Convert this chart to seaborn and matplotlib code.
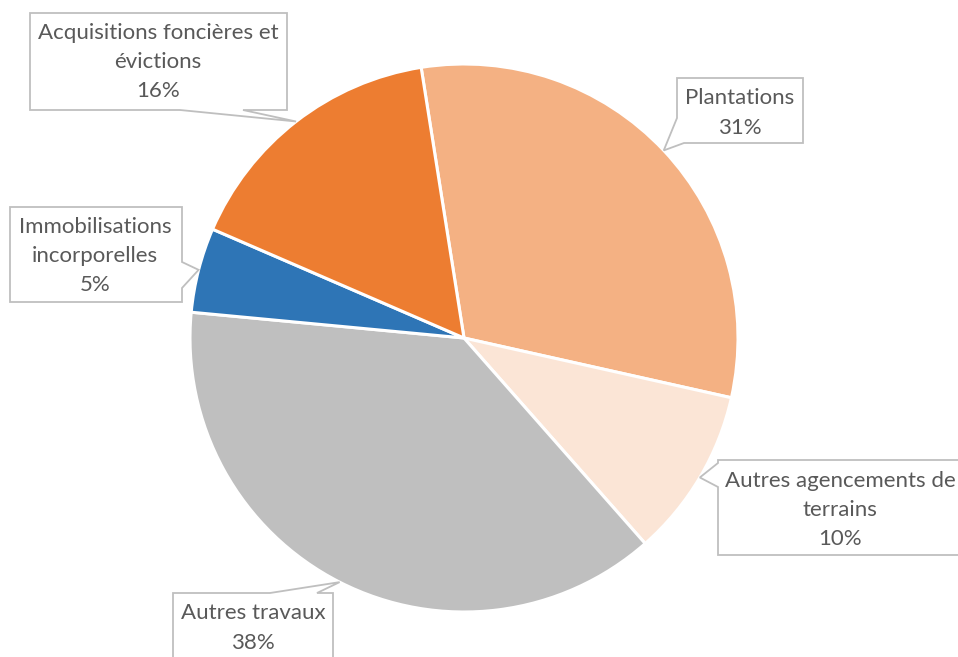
"""
Pie chart of investment spending by category, with Excel-style callout labels.
"""
import matplotlib
matplotlib.use("Agg")

import matplotlib.pyplot as plt
import numpy as np
import seaborn as sns
from matplotlib.patches import Polygon


CATEGORIES = [
    "Plantations",
    "Autres agencements de\nterrains",
    "Autres travaux",
    "Immobilisations\nincorporelles",
    "Acquisitions foncières et\névictions",
]
SHARES = [31, 10, 38, 5, 16]
COLORS = ["#F4B183", "#FBE5D6", "#BFBFBF", "#2E75B6", "#ED7D31"]

W, H = 958, 657          # figure size in px
CX, CY, R = 464, 338, 274  # pie centre and radius in px

# callout layout in px: text centre, box outline with "TIP" where the pointer goes
CALLOUTS = [
    ((740, 113), [(677, 78), (803, 78), (803, 143), (684, 143), "TIP", (677, 118)]),
    ((840, 510), [(718, 460), (990, 460), (990, 555), (718, 555), (718, 487), "TIP", (718, 463)]),
    ((253, 628), [(173, 593), (270, 593), "TIP", (317, 593), (333, 593), (333, 700), (173, 700)]),
    ((95, 256), [(10, 207), (182, 207), (182, 262), "TIP", (182, 288), (182, 302), (10, 302)]),
    ((158, 62), [(30, 13), (287, 13), (287, 110), (243, 110), "TIP", (180, 110), (30, 110)]),
]


def px(x, y):
    """Pixel position -> data coordinates (pie radius = 1)."""
    return (x - CX) / R, (CY - y) / R


def set_style() -> None:
    sns.set_theme(style="white")
    plt.rcParams.update({
        "font.family": ["Lato", "DejaVu Sans"],
        "figure.dpi": 100,
        "savefig.dpi": 100,
    })


def build_figure() -> plt.Figure:
    fig = plt.figure(figsize=(W / 100, H / 100))
    ax = fig.add_axes([0, 0, 1, 1])

    start = 99
    wedges, _ = ax.pie(
        SHARES, colors=COLORS, startangle=start, counterclock=False,
        radius=1, center=(0, 0), frame=True,
        wedgeprops=dict(edgecolor="white", linewidth=2.2),
    )
    ax.set_xlim(-CX / R, (W - CX) / R)
    ax.set_ylim(-(H - CY) / R, CY / R)
    ax.set_aspect("auto")
    ax.axis("off")

    total = sum(SHARES)
    for wedge, label, share, (tc, outline) in zip(wedges, CATEGORIES, SHARES, CALLOUTS):
        mid = np.deg2rad((wedge.theta1 + wedge.theta2) / 2)
        tip = (np.cos(mid), np.sin(mid))
        verts = [tip if p == "TIP" else px(*p) for p in outline]
        ax.add_patch(Polygon(verts, closed=True, facecolor="white",
                             edgecolor="#BFBFBF", linewidth=1.3, zorder=3))
        tx, ty = px(*tc)
        ax.text(tx, ty, f"{label}\n{share / total * 100:.0f}%", ha="center", va="center",
                fontsize=16, color="#595959", linespacing=1.58, zorder=4)
    return fig


def main() -> None:
    set_style()
    fig = build_figure()
    fig.savefig("out.png", dpi=100, facecolor="white")


if __name__ == "__main__":
    main()
